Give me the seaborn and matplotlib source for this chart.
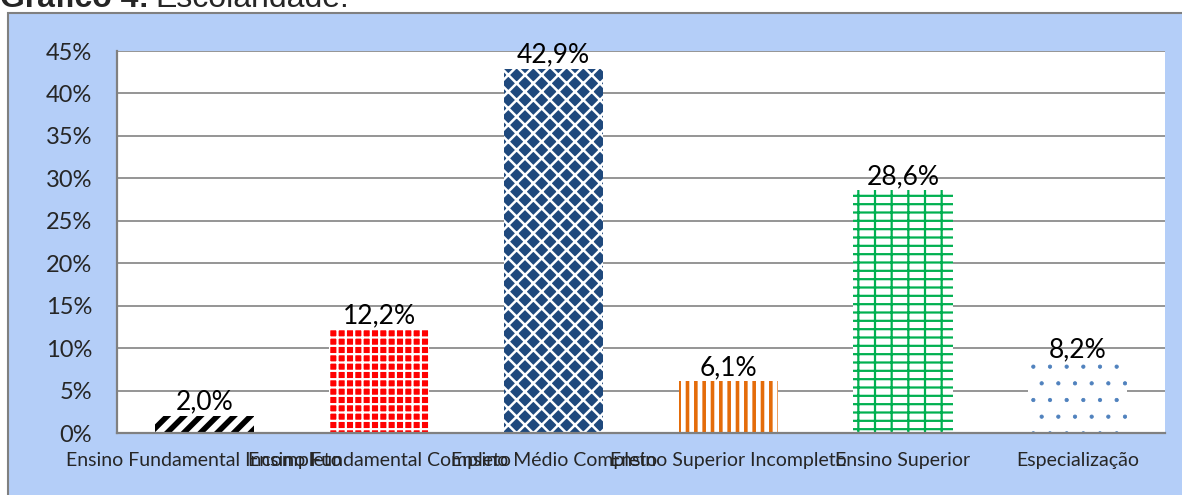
import numpy as np
import pandas as pd
import seaborn as sns
import matplotlib.pyplot as plt
from matplotlib.patches import Rectangle

# data
categories = ['Ensino Fundamental Incompleto', 'Ensino Fundamental Completo',
              'Ensino Médio Completo', 'Ensino Superior Incompleto',
              'Ensino Superior', 'Especialização']
percent = [2.0, 12.2, 42.9, 6.1, 28.6, 8.2]
yticks = [0, 5, 10, 15, 20, 25, 30, 35, 40, 45]

# bar styles (face, hatch colour, hatch, hatch width)
styles = [
    ('white', 'black', '//', 4.0),
    ('#ff0000', 'white', '++', 1.6),
    ('#1f497d', 'white', 'xx', 1.8),
    ('white', '#e46c0a', '||', 2.6),
    ('white', '#00b050', '+-', 1.6),
    ('white', '#4f81bd', '.', 0.6),
]

sns.set_style('white')
plt.rcParams['font.family'] = ['Lato', 'DejaVu Sans']

W, H = 1182, 495
fig = plt.figure(figsize=(W / 100, H / 100), dpi=100)
fig.patch.set_facecolor('white')

# chart area box
fig.patches.append(Rectangle((8 / W, -0.05), 1.1, 1 - 13 / H + 0.05,
                             transform=fig.transFigure, facecolor='#b4cef8',
                             edgecolor='#808080', linewidth=1.5, zorder=-5))

ax = fig.add_axes([117 / W, 1 - 433 / H, (1165 - 117) / W, (433 - 51) / H])
df = pd.DataFrame({'cat': categories, 'pct': percent})
sns.barplot(data=df, x='cat', y='pct', color='white', width=0.57, ax=ax,
            errorbar=None)

for bar, (face, hcol, hatch, hlw) in zip(ax.patches, styles):
    bar.set_facecolor(face)
    bar.set_edgecolor(hcol)
    bar.set_hatch(hatch)
    bar.set_linewidth(0)
    if hasattr(bar, 'set_hatch_linewidth'):
        bar.set_hatch_linewidth(hlw)

for bar, v in zip(ax.patches, percent):
    ax.annotate(f'{v:.1f}%'.replace('.', ','),
                (bar.get_x() + bar.get_width() / 2, bar.get_height()),
                xytext=(0, 1), textcoords='offset points',
                ha='center', va='bottom', fontsize=19, color='black')

ax.set_ylim(0, 45)
ax.set_yticks(yticks)
ax.set_yticklabels([f'{t}%' for t in yticks])
ax.set_xlabel('')
ax.set_ylabel('')
ax.grid(axis='y', color='#8c8c8c', linewidth=1.3)
ax.set_axisbelow(True)
ax.tick_params(axis='y', length=0, pad=18, labelsize=17)
ax.tick_params(axis='x', length=0, pad=14, labelsize=14)
for s in ['top', 'right']:
    ax.spines[s].set_visible(False)
for s in ['left', 'bottom']:
    ax.spines[s].set_color('#808080')
    ax.spines[s].set_linewidth(1.6)
ax.set_facecolor('white')

# title (partially cut at top)
r = fig.canvas.get_renderer()
t1 = fig.text(0.0, 1 - 7 / H, 'Gráfico 4:', fontsize=23, fontweight='bold',
              family='Liberation Sans', va='baseline')
bb = t1.get_window_extent(r)
fig.text(bb.x1 / W + 6 / W, 1 - 7 / H, 'Escolaridade.', fontsize=23,
         family='Liberation Sans', va='baseline')

fig.savefig('out.png', dpi=100)
